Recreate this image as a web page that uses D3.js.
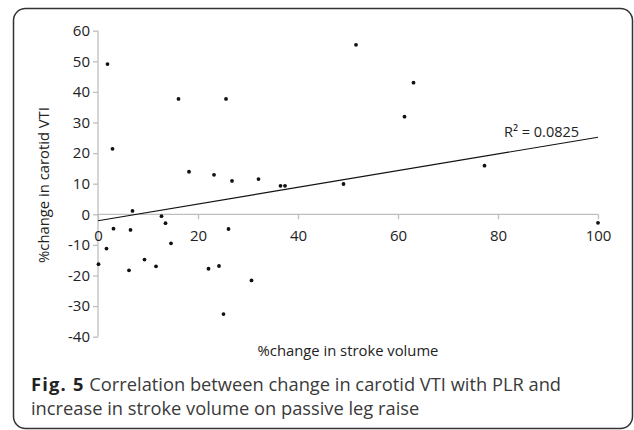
<!DOCTYPE html>
<html>
<head>
<meta charset="utf-8">
<script src="https://cdn.jsdelivr.net/npm/d3@7"></script>
<style>
  body { margin: 0; background: #fff; }
  svg { display: block; font-family: "Open Sans", sans-serif; }
</style>
</head>
<body>
<div id="chart"></div>
<script>
// %change in stroke volume (x) and %change in carotid VTI (y)
var strokeVolume = [1.9, 2.9, 16.1, 25.6, 18.2, 23.2, 26.8, 32.1, 36.5, 37.4,
    51.6, 63.1, 61.3, 77.3, 49.1, 6.9, 12.7, 13.5, 3.1, 6.5, 26.1, 14.6, 1.7,
    0.1, 6.2, 9.3, 11.6, 22.1, 24.2, 30.7, 25.1, 100];
var carotidVTI = [49.1, 21.4, 37.7, 37.7, 13.9, 12.9, 10.9, 11.5, 9.3, 9.3,
    55.4, 43.0, 31.9, 15.9, 9.9, 1.1, -0.6, -2.9, -4.7, -5.1, -4.8, -9.5, -11.2,
    -16.3, -18.3, -14.8, -17.0, -17.8, -16.9, -21.6, -32.6, -2.8];
var xTicks = [0, 20, 40, 60, 80, 100];
var yTicks = [-40, -30, -20, -10, 0, 10, 20, 30, 40, 50, 60];
// linear trend line end points (x, y)
var trendX = [0, 100];
var trendY = [-2.1, 25.2];
var r2Label = "R² = 0.0825";

var width = 634, height = 430;

var svg = d3.select("#chart")
    .append("svg")
    .attr("width", width)
    .attr("height", height);

// rounded frame around figure
svg.append("rect")
    .attr("x", 13.5)
    .attr("y", 8.5)
    .attr("width", 619)
    .attr("height", 420)
    .attr("rx", 12)
    .attr("fill", "none")
    .attr("stroke", "#333")
    .attr("stroke-width", 1.5);

var x = d3.scaleLinear().domain([0, 100]).range([98, 598]);
var y = d3.scaleLinear().domain([-40, 60]).range([336.7, 30.7]);

// plain hyphen minus like the original
var fmt = function(d) { return String(d); };

// y axis
var yAxis = svg.append("g")
    .attr("transform", "translate(" + x(0) + ",0)")
    .call(d3.axisLeft(y).tickValues(yTicks).tickFormat(fmt).tickSize(5).tickPadding(3));

// x axis sits on y = 0
var xAxis = svg.append("g")
    .attr("transform", "translate(0," + y(0) + ")")
    .call(d3.axisBottom(x).tickValues(xTicks).tickFormat(fmt).tickSize(5).tickPadding(11));

[xAxis, yAxis].forEach(function(a) {
    a.selectAll("path, line").attr("stroke", "#bfbfbf").attr("stroke-width", 1.3);
    a.selectAll("text")
        .attr("font-size", 15)
        .attr("fill", "#222")
        .style("font-family", "'Open Sans', sans-serif");
});
xAxis.select(".domain").attr("d", "M" + x(0) + ",0H" + x(100));
yAxis.select(".domain").attr("d", "M0," + y(-40) + "V" + y(60));

// trend line
svg.append("line")
    .attr("x1", x(trendX[0]))
    .attr("y1", y(trendY[0]))
    .attr("x2", x(trendX[1]))
    .attr("y2", y(trendY[1]))
    .attr("stroke", "#111")
    .attr("stroke-width", 1.1);

// points
svg.selectAll(".dot")
    .data(strokeVolume)
    .enter()
    .append("circle")
    .attr("class", "dot")
    .attr("cx", function(d) { return x(d); })
    .attr("cy", function(d, i) { return y(carotidVTI[i]); })
    .attr("r", 1.9)
    .attr("fill", "#111");

svg.append("text")
    .attr("x", 504)
    .attr("y", 137)
    .attr("font-size", 14.5)
    .attr("fill", "#222")
    .text(r2Label);

// axis titles
svg.append("text")
    .attr("x", 348)
    .attr("y", 356)
    .attr("text-anchor", "middle")
    .attr("font-size", 14.8)
    .attr("fill", "#222")
    .text("%change in stroke volume");

svg.append("text")
    .attr("transform", "translate(49,185) rotate(-90)")
    .attr("text-anchor", "middle")
    .attr("font-size", 14.8)
    .attr("fill", "#222")
    .text("%change in carotid VTI");

// caption
var cap = svg.append("text")
    .attr("x", 31)
    .attr("y", 391)
    .attr("font-size", 18.3)
    .attr("fill", "#3a3a3a");
cap.append("tspan")
    .attr("font-weight", "bold")
    .attr("fill", "#222")
    .attr("letter-spacing", 1.2)
    .text("Fig. 5");
cap.append("tspan").text(" Correlation between change in carotid VTI with PLR and");

svg.append("text")
    .attr("x", 31)
    .attr("y", 415)
    .attr("font-size", 18.3)
    .attr("fill", "#3a3a3a")
    .text("increase in stroke volume on passive leg raise");
</script>
</body>
</html>
